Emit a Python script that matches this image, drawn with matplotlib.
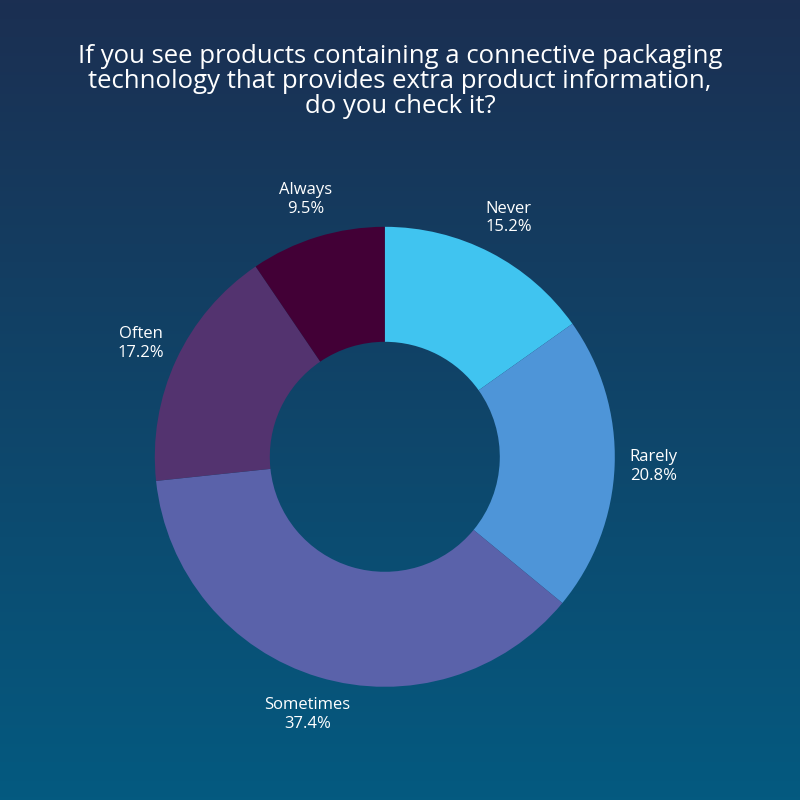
import matplotlib.pyplot as plt
import numpy as np

labels = ['Never', 'Rarely', 'Sometimes', 'Often', 'Always']
values = [15.2, 20.8, 37.4, 17.2, 9.5]
colors = ['#40c4f0', '#4e95d8', '#5a62aa', '#53336f', '#420036']

fig = plt.figure(figsize=(8, 8), dpi=100)

# gradient background
bg = fig.add_axes([0, 0, 1, 1])
grad = np.linspace(0, 1, 256).reshape(-1, 1)
top = np.array([0x1b, 0x2f, 0x52]) / 255
bot = np.array([0x04, 0x5a, 0x80]) / 255
img = top + (bot - top) * grad[:, :, None]
bg.imshow(img, aspect='auto', extent=[0, 1, 0, 1])
bg.axis('off')

fig.text(0.5, 0.945, 'If you see products containing a connective packaging\n'
         'technology that provides extra product information,\ndo you check it?',
         ha='center', va='top', color='white', fontsize=18.5, family='Open Sans',
         linespacing=1.0)

ax = fig.add_axes([0.481 - 0.2875, 0.429 - 0.2875, 0.575, 0.575])
texts = [f'{l}\n{v}%' for l, v in zip(labels, values)]
wedges, lt = ax.pie(values, colors=colors, startangle=90, counterclock=False,
                    labels=texts, labeldistance=1.17,
                    wedgeprops=dict(width=0.5, linewidth=0),
                    textprops=dict(color='white', fontsize=12, family='Open Sans',
                                   ha='center', va='center'))
for t in lt:
    t.set_ha('center')
    t.set_clip_on(False)
ax.set_xlim(-1, 1)
ax.set_ylim(-1, 1)
ax.set_aspect('equal')

fig.savefig('out.png', dpi=100)
